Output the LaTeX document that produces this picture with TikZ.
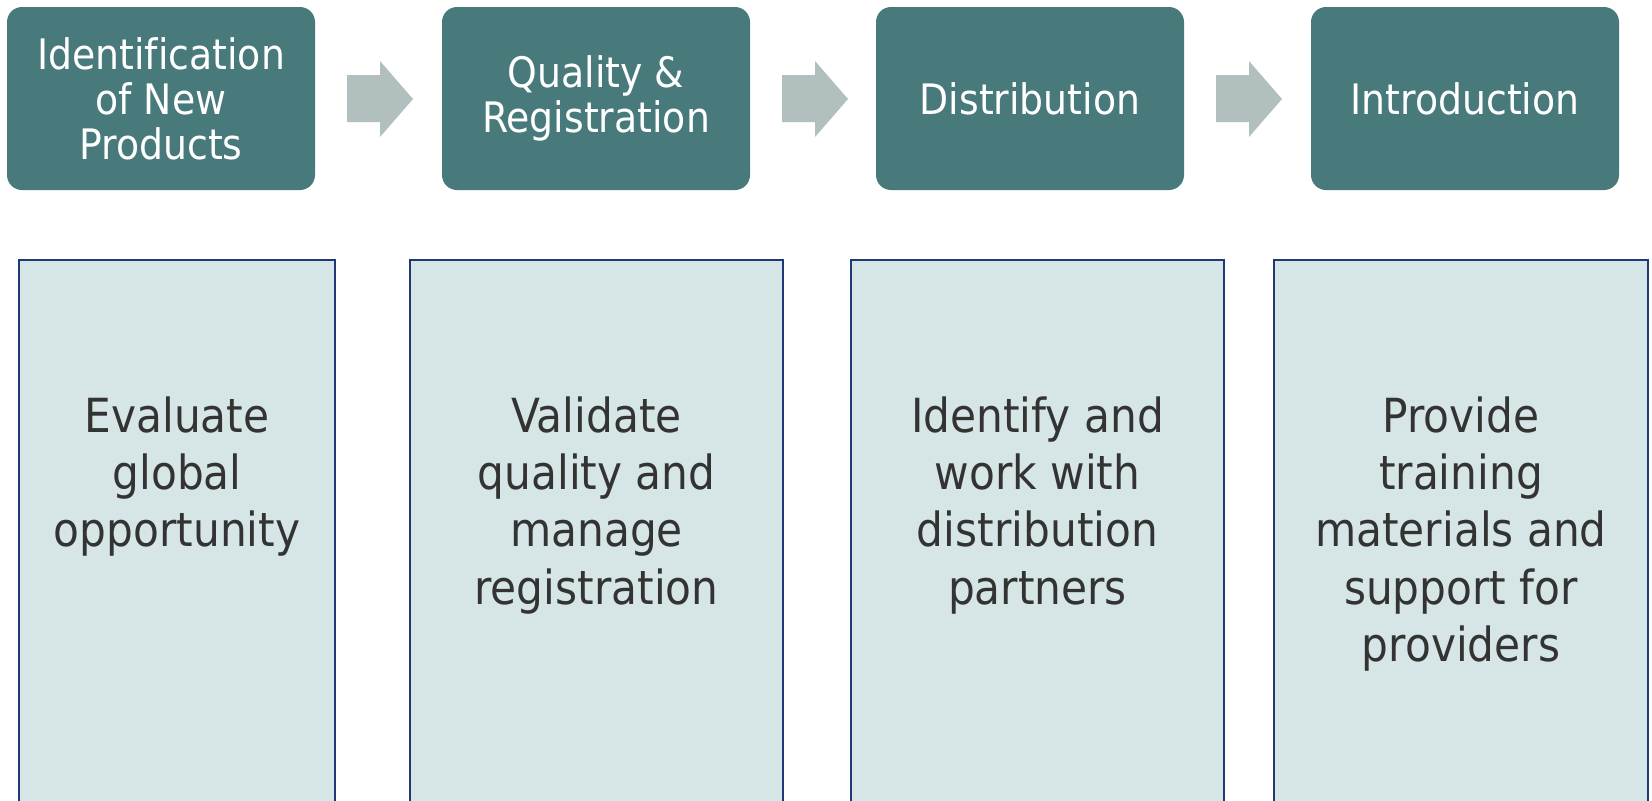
\documentclass[tikz,border=0pt]{standalone}
\usepackage{fontspec}
\setmainfont{DejaVu Sans}[FakeStretch=0.9, Ligatures=NoCommon]

\definecolor{stepteal}{RGB}{72,122,123}
\definecolor{arrowgrey}{RGB}{177,191,191}
\definecolor{taskfill}{RGB}{214,230,230}
\definecolor{taskline}{RGB}{31,56,118}
\definecolor{tasktext}{RGB}{51,51,51}

\tikzset{every picture/.style={line width=0.75pt}}
\tikzset{
  stepbox/.style={draw=none, fill=stepteal, rounded corners=11.25pt, text=white, align=center,
    minimum width=231pt, minimum height=137.25pt, inner sep=0pt,
    font=\fontsize{31.5}{33.75}\selectfont},
  tasktxt/.style={anchor=north, inner sep=0pt, align=center, text=tasktext,
    font=\fontsize{35.25}{43}\selectfont}
}

\begin{document}
\begin{tikzpicture}[x=0.75pt,y=0.75pt,yscale=-1,xscale=1]
\clip (0,0) rectangle (1652,800);

%Rounded Rect: steps
\node[stepbox] (ident) at (161,98.5) {Identification\\of New\\Products};
\node[stepbox] (quality) at (596,98.5) {Quality \&\\Registration};
\node[stepbox] (distrib) at (1030,98.5) {Distribution};
\node[stepbox] (intro) at (1465,98.5) {Introduction};

%Shape: Right Arrow
\foreach \dx in {0,435,869} {
  \fill[arrowgrey] (347+\dx,75) -- (380+\dx,75) -- (380+\dx,61) -- (413+\dx,99)
    -- (380+\dx,137) -- (380+\dx,122) -- (347+\dx,122) -- cycle ;
}

%Shape: Rectangle
\draw[draw=taskline, fill=taskfill, line width=1.8pt] (19,260) rectangle (335,820) ;
\draw[draw=taskline, fill=taskfill, line width=1.8pt] (410,260) rectangle (783,820) ;
\draw[draw=taskline, fill=taskfill, line width=1.8pt] (851,260) rectangle (1224,820) ;
\draw[draw=taskline, fill=taskfill, line width=1.8pt] (1274,260) rectangle (1648,820) ;

%Text
\node[tasktxt] (evaltext) at (177,396) {Evaluate\\global\\opportunity};
\node[tasktxt] (validtext) at (596.5,396) {Validate\\quality and\\manage\\registration};
\node[tasktxt] (partnertext) at (1037.5,396) {Identify and\\work with\\distribution\\partners};
\node[tasktxt] (traintext) at (1461,396) {Provide\\training\\materials and\\support for\\providers};

\end{tikzpicture}
\end{document}
